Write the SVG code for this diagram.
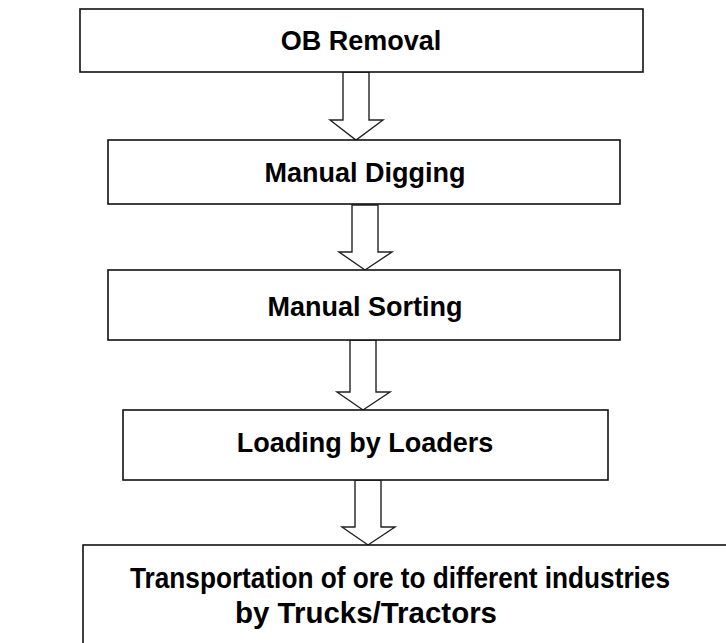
<svg xmlns="http://www.w3.org/2000/svg" width="726" height="643" viewBox="0 0 726 643">
<style>
.box{fill:#fff;stroke:#111;stroke-width:1.6}
.lbl{font-family:"Liberation Sans",Arial,sans-serif;font-weight:bold;font-size:27px;fill:#000;text-anchor:middle}
.big{font-size:29px}
.arr{fill:#fff;stroke:#222;stroke-width:1.4;stroke-linejoin:miter}
</style>
<rect width="726" height="643" fill="#fff"/>
<g id="connectors">
<path class="arr" d="M343,72 V120 H330 L356,140 L383,120 H369 V72 Z"/>
<path class="arr" d="M352,205 V252 H339 L365,270 L392,252 H378 V205 Z"/>
<path class="arr" d="M350,340 V392 H337 L363,410 L390,392 H376 V340 Z"/>
<path class="arr" d="M355,480 V527 H342 L368,545 L395,527 H381 V480 Z"/>
</g>
<g id="n1"><rect class="box" x="80" y="9" width="563" height="63"/><text class="lbl" x="361" y="50">OB Removal</text></g>
<g id="n2"><rect class="box" x="108" y="140" width="512" height="64"/><text class="lbl" x="365" y="182">Manual Digging</text></g>
<g id="n3"><rect class="box" x="108" y="270" width="512" height="70"/><text class="lbl" x="365" y="316">Manual Sorting</text></g>
<g id="n4"><rect class="box" x="123" y="410" width="485" height="70"/><text class="lbl" x="365" y="452">Loading by Loaders</text></g>
<g id="n5"><rect class="box" x="83" y="545" width="650" height="110"/><text class="lbl big" x="400" y="588" textLength="540" lengthAdjust="spacingAndGlyphs">Transportation of ore to different industries</text><text class="lbl big" x="366" y="623" textLength="262" lengthAdjust="spacingAndGlyphs">by Trucks/Tractors</text></g>
</svg>
